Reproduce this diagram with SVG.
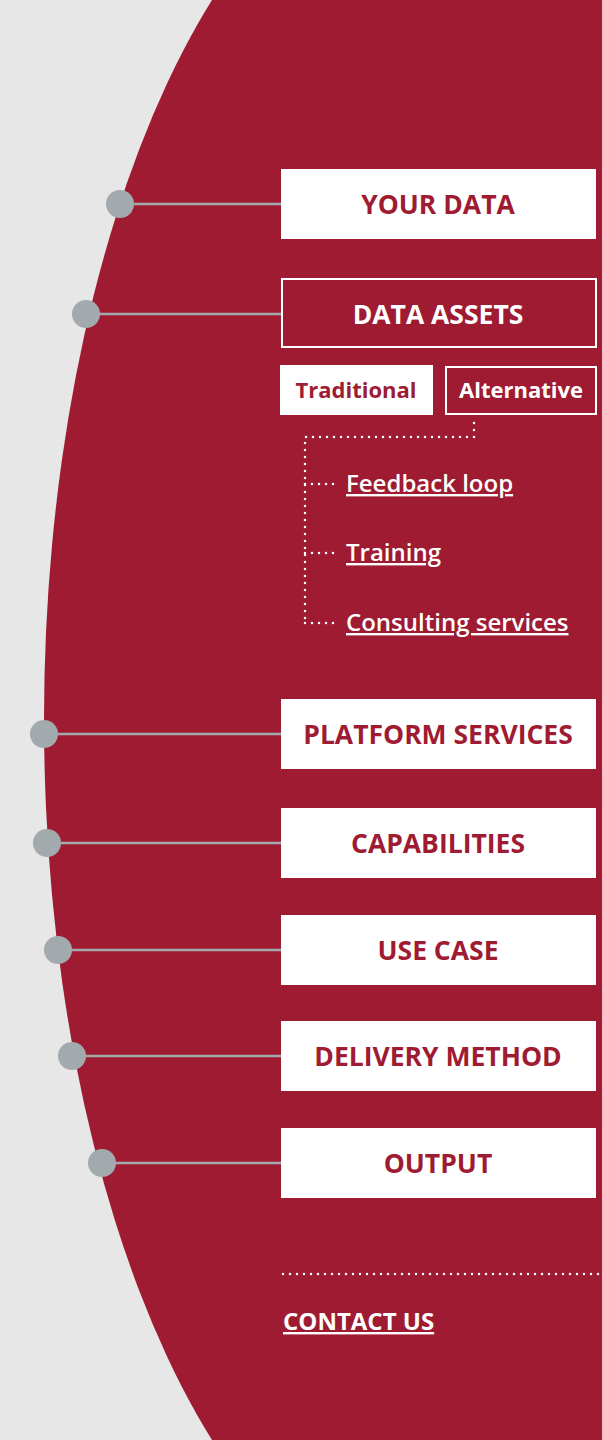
<svg xmlns="http://www.w3.org/2000/svg" width="602" height="1440" viewBox="0 0 602 1440">
<style>
.box{fill:#fff}
.obox{fill:#9e1b32;stroke:#fff;stroke-width:2}
.lbl{font-family:"Open Sans","Noto Sans",sans-serif;font-weight:700;font-size:26.5px;fill:#9e1b32;text-anchor:middle}
.wl{fill:#fff}
.sub{font-family:"Open Sans","Noto Sans",sans-serif;font-weight:700;font-size:22px;text-anchor:middle}
.link{font-family:"Open Sans","Noto Sans",sans-serif;font-weight:600;font-size:24px;fill:#fff;text-decoration:underline}
.dot{fill:#a3aaad}
.conn{stroke:#a3aaad;stroke-width:2.5;fill:none}
.dots{stroke:#fff;stroke-width:2.5;stroke-linecap:round;stroke-dasharray:0 7;fill:none}
</style>
<rect width="602" height="1440" fill="#e7e7e7"/>
<ellipse cx="464" cy="720" rx="420" ry="900" fill="#9e1b32"/>
<rect x="464" y="0" width="138" height="1440" fill="#9e1b32"/>

<g id="connectors">
<line class="conn" x1="120" y1="204" x2="281" y2="204"/>
<line class="conn" x1="86" y1="314" x2="281" y2="314"/>
<line class="conn" x1="44" y1="734" x2="281" y2="734"/>
<line class="conn" x1="47" y1="843" x2="281" y2="843"/>
<line class="conn" x1="58" y1="950" x2="281" y2="950"/>
<line class="conn" x1="72" y1="1056" x2="281" y2="1056"/>
<line class="conn" x1="102" y1="1163" x2="281" y2="1163"/>
<path class="dots" d="M474 423 V437 H305 V623"/>
<path class="dots" d="M305 484 H340 M305 553 H340 M305 623 H340"/>
<line class="dots" x1="283" y1="1274" x2="602" y2="1274"/>
</g>

<g id="your-data">
<circle class="dot" cx="120" cy="204" r="14"/>
<rect class="box" x="281" y="169" width="315" height="70"/>
<text class="lbl" x="438" y="213.5">YOUR DATA</text>
</g>
<g id="data-assets">
<circle class="dot" cx="86" cy="314" r="14"/>
<rect class="obox" x="282" y="279" width="314" height="68"/>
<text class="lbl wl" x="438" y="323.5">DATA ASSETS</text>
</g>
<g id="traditional">
<rect class="box" x="280" y="365" width="153" height="50"/>
<text class="sub" x="356" y="398" fill="#9e1b32">Traditional</text>
</g>
<g id="alternative">
<rect class="obox" x="446" y="367" width="150" height="47"/>
<text class="sub" x="521" y="398" fill="#fff">Alternative</text>
</g>
<g id="feedback-loop"><text class="link" x="346" y="492">Feedback loop</text></g>
<g id="training"><text class="link" x="346" y="561">Training</text></g>
<g id="consulting"><text class="link" x="346" y="631">Consulting services</text></g>

<g id="platform-services">
<circle class="dot" cx="44" cy="734" r="14"/>
<rect class="box" x="281" y="699" width="315" height="70"/>
<text class="lbl" x="438" y="743.5">PLATFORM SERVICES</text>
</g>
<g id="capabilities">
<circle class="dot" cx="47" cy="843" r="14"/>
<rect class="box" x="281" y="808" width="315" height="70"/>
<text class="lbl" x="438" y="852.5">CAPABILITIES</text>
</g>
<g id="use-case">
<circle class="dot" cx="58" cy="950" r="14"/>
<rect class="box" x="281" y="915" width="315" height="70"/>
<text class="lbl" x="438" y="959.5">USE CASE</text>
</g>
<g id="delivery-method">
<circle class="dot" cx="72" cy="1056" r="14"/>
<rect class="box" x="281" y="1021" width="315" height="70"/>
<text class="lbl" x="438" y="1065.5">DELIVERY METHOD</text>
</g>
<g id="output">
<circle class="dot" cx="102" cy="1163" r="14"/>
<rect class="box" x="281" y="1128" width="315" height="70"/>
<text class="lbl" x="438" y="1172.5">OUTPUT</text>
</g>
<g id="contact-us">
<text class="link" x="283" y="1330" style="font-weight:700">CONTACT US</text>
</g>
</svg>
